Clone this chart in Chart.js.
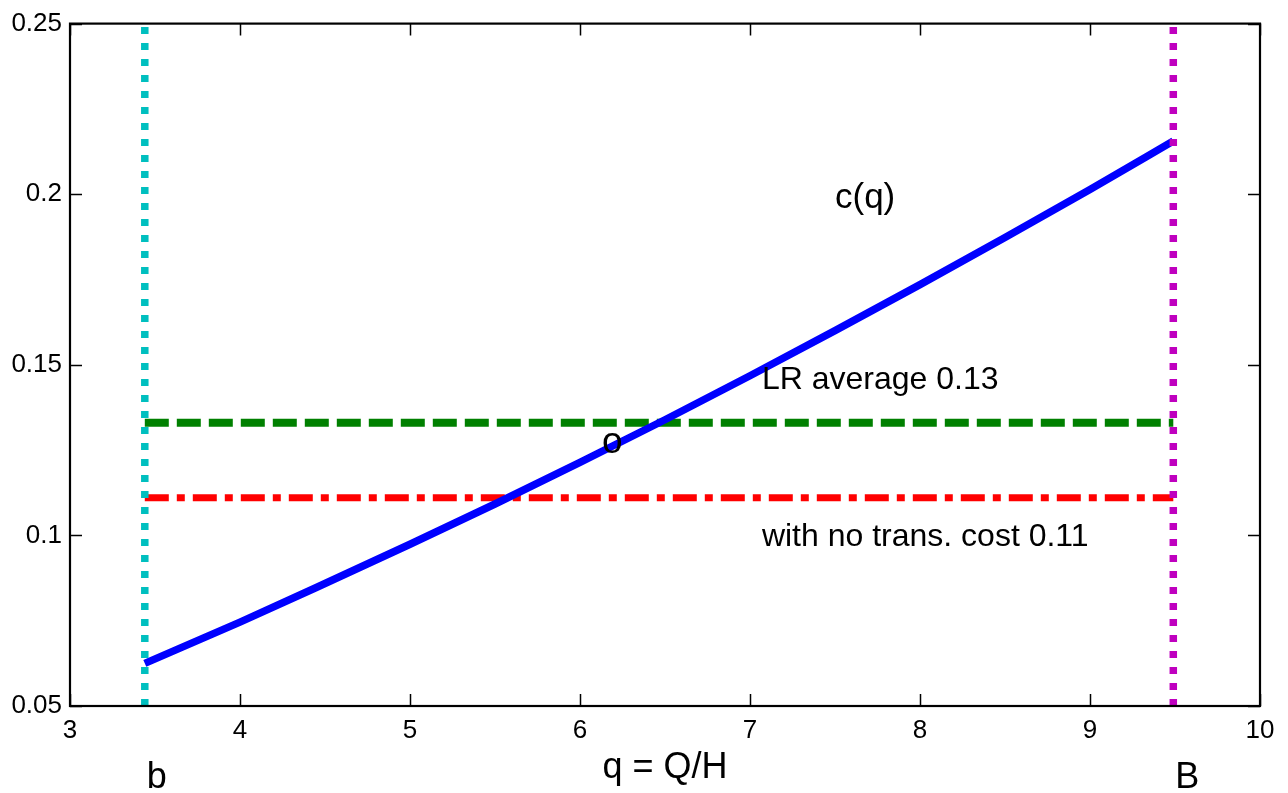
<!DOCTYPE html>
<html>
<head>
<meta charset="utf-8">
<script src="https://cdn.jsdelivr.net/npm/chart.js@4/dist/chart.umd.min.js"></script>
<style>
html,body{margin:0;padding:0;background:#fff;}
canvas{display:block;}
</style>
</head>
<body>
<canvas id="c" width="1288" height="793"></canvas>
<script>
// ---- data ----
const qValues = [3.44, 4.0, 4.5, 5.0, 5.5, 6.0, 6.5, 7.0, 7.5, 8.0, 8.5, 9.0, 9.49];
const costValues = [0.0625, 0.0746, 0.0859, 0.0974, 0.1092, 0.1214, 0.1339, 0.1468, 0.1600, 0.1735, 0.1873, 0.2014, 0.2156];
const boundLow = 3.44;   // b
const boundHigh = 9.49;  // B
const lrAverage = 0.133;
const noTransCost = 0.111;
const xTicks = [3, 4, 5, 6, 7, 8, 9, 10];
const yTicks = [0.05, 0.1, 0.15, 0.2, 0.25];
const xRange = [3, 10];
const yRange = [0.05, 0.25];

const FONT = "'Liberation Sans', Arial, Helvetica, sans-serif";

const annotations = [
  {text: 'c(q)', x: 7.5, y: 0.196, size: 35, align: 'left'},
  {text: 'LR average 0.13', x: 7.07, y: 0.143, size: 32, align: 'left'},
  {text: 'with no trans. cost 0.11', x: 7.07, y: 0.0969, size: 32, align: 'left'},
  {text: 'o', x: 6.19, y: 0.1241, size: 37, align: 'center'}
];
const boundLabels = [
  {text: 'b', x: boundLow},
  {text: 'B', x: boundHigh}
];

const framePlugin = {
  id: 'frame',
  afterDraw(chart) {
    const ctx = chart.ctx;
    const a = chart.chartArea;
    const xs = chart.scales.x, ys = chart.scales.y;
    ctx.save();
    ctx.strokeStyle = '#000';
    ctx.lineWidth = 1.5;
    const tl = 12;
    ctx.beginPath();
    xTicks.forEach(v => {
      const px = Math.round(xs.getPixelForValue(v)) + 0.5;
      ctx.moveTo(px, a.bottom); ctx.lineTo(px, a.bottom - tl);
      ctx.moveTo(px, a.top); ctx.lineTo(px, a.top + tl);
    });
    yTicks.forEach(v => {
      const py = Math.round(ys.getPixelForValue(v)) + 0.5;
      ctx.moveTo(a.left, py); ctx.lineTo(a.left + tl, py);
      ctx.moveTo(a.right, py); ctx.lineTo(a.right - tl, py);
    });
    ctx.stroke();
    ctx.lineWidth = 2.2;
    ctx.strokeRect(a.left, a.top, a.right - a.left, a.bottom - a.top);

    ctx.fillStyle = '#000';
    ctx.textBaseline = 'alphabetic';
    annotations.forEach(t => {
      ctx.font = t.size + 'px ' + FONT;
      ctx.textAlign = t.align;
      ctx.fillText(t.text, xs.getPixelForValue(t.x), ys.getPixelForValue(t.y));
    });
    ctx.textAlign = 'left';
    ctx.font = '36px ' + FONT;
    boundLabels.forEach(t => {
      ctx.fillText(t.text, xs.getPixelForValue(t.x) + 2, a.bottom + 82);
    });
    ctx.restore();
  }
};

new Chart(document.getElementById('c'), {
  type: 'line',
  data: {
    datasets: [
      {
        label: 'b',
        data: [{x: boundLow, y: yRange[0]}, {x: boundLow, y: yRange[1]}],
        borderColor: '#00bfbf', borderWidth: 7.5, borderDash: [7, 9], borderCapStyle: 'butt',
        pointRadius: 0, order: 1
      },
      {
        label: 'B',
        data: [{x: boundHigh, y: yRange[0]}, {x: boundHigh, y: yRange[1]}],
        borderColor: '#bf00bf', borderWidth: 7.5, borderDash: [7, 9], borderCapStyle: 'butt',
        pointRadius: 0, order: 1
      },
      {
        label: 'c(q)',
        data: qValues.map((q, i) => ({x: q, y: costValues[i]})),
        borderColor: '#0000ff', borderWidth: 7.5, cubicInterpolationMode: 'monotone',
        pointRadius: 0, order: 3
      },
      {
        label: 'LR average',
        data: [{x: boundLow, y: lrAverage}, {x: boundHigh, y: lrAverage}],
        borderColor: '#008000', borderWidth: 8, borderDash: [24, 8], borderCapStyle: 'butt',
        pointRadius: 0, order: 4
      },
      {
        label: 'no trans. cost',
        data: [{x: boundLow, y: noTransCost}, {x: boundHigh, y: noTransCost}],
        borderColor: '#ff0000', borderWidth: 7, borderDash: [24, 8, 8, 8], borderCapStyle: 'butt',
        pointRadius: 0, order: 4
      }
    ]
  },
  options: {
    responsive: false,
    animation: false,
    layout: {padding: {top: 20, right: 28, left: 0, bottom: 0}},
    plugins: {legend: {display: false}, tooltip: {enabled: false}},
    scales: {
      x: {
        type: 'linear', min: xRange[0], max: xRange[1],
        afterBuildTicks: s => { s.ticks = xTicks.map(v => ({value: v})); },
        ticks: {font: {size: 26, family: FONT}, color: '#000', padding: 9, maxRotation: 0, autoSkip: false},
        grid: {display: false, drawTicks: false},
        border: {display: false},
        title: {display: true, text: 'q = Q/H', font: {size: 36, family: FONT}, color: '#000', padding: {top: 0, bottom: 3}},
        afterFit: s => { s.height = 87; }
      },
      y: {
        type: 'linear', min: yRange[0], max: yRange[1],
        afterBuildTicks: s => { s.ticks = yTicks.map(v => ({value: v})); },
        ticks: {font: {size: 26, family: FONT}, color: '#000', padding: 8, autoSkip: false,
          callback: v => String(Number(v.toFixed(2)))},
        grid: {display: false, drawTicks: false},
        border: {display: false},
        afterFit: s => { s.width = 70; }
      }
    }
  },
  plugins: [framePlugin]
});
</script>
</body>
</html>
